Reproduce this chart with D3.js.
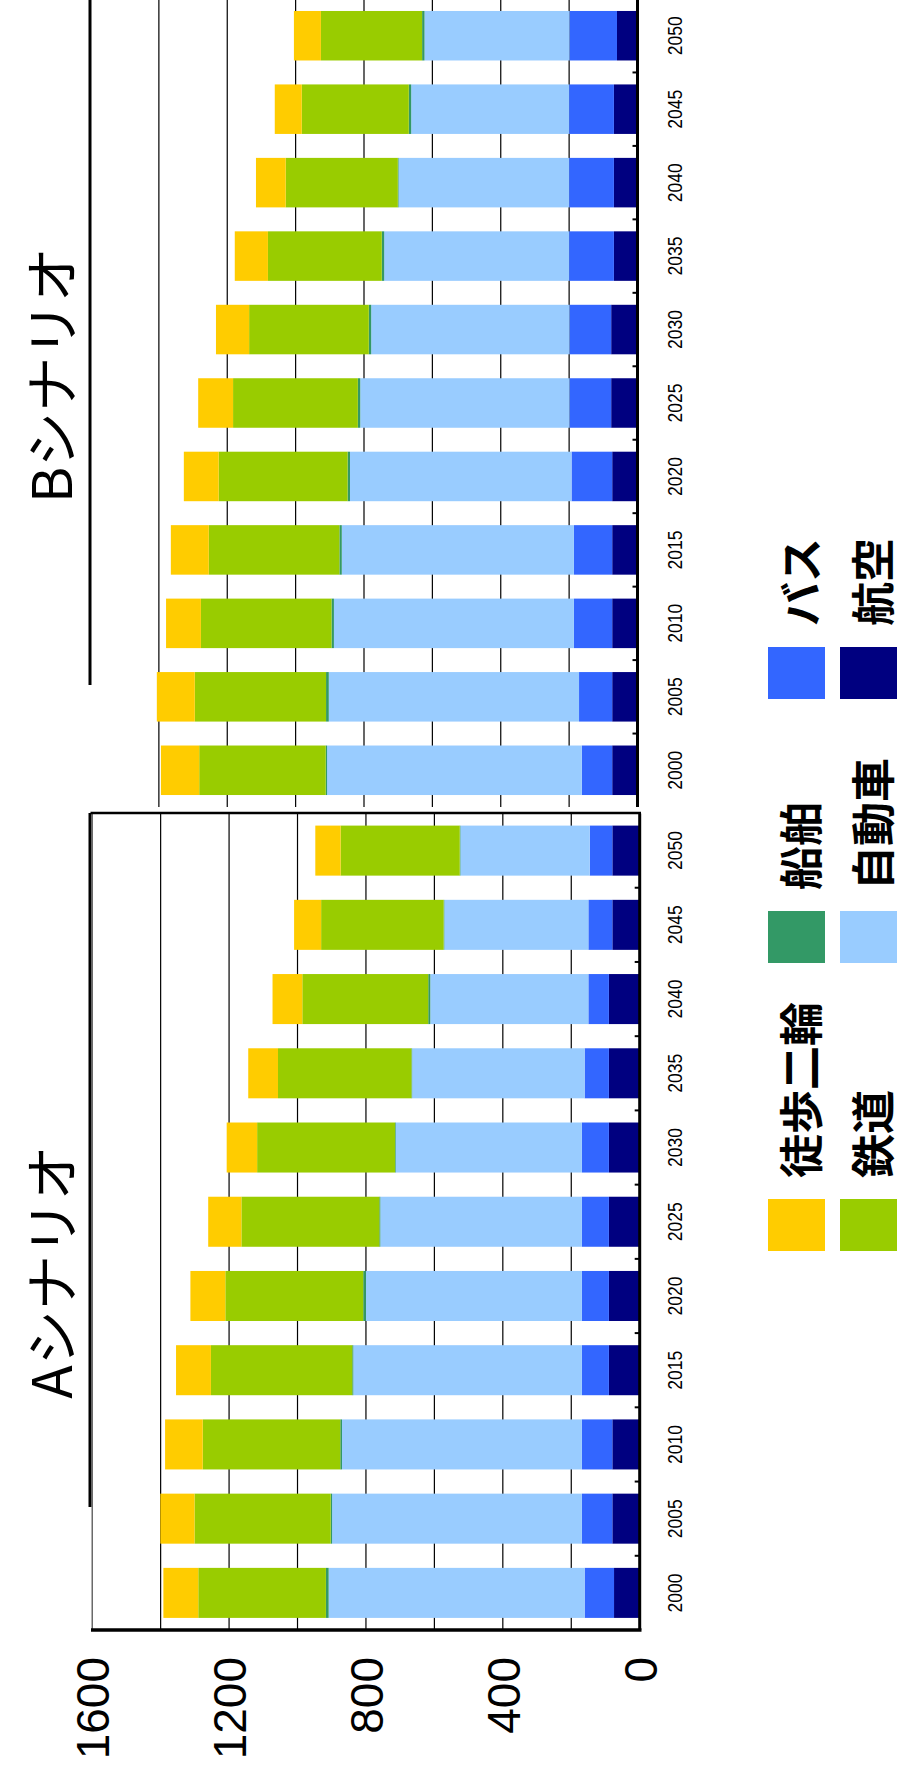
<!DOCTYPE html>
<html>
<head>
<meta charset="utf-8">
<script src="https://cdn.jsdelivr.net/npm/d3@7"></script>
<style>
  html, body { margin: 0; padding: 0; background: #fff; }
  svg { display: block; }
</style>
</head>
<body>
<div id="chart"></div>
<script>
// Passenger transport by mode, two scenarios, stacked bars (drawn landscape, then turned a quarter turn)
const years = ["2000","2005","2010","2015","2020","2025","2030","2035","2040","2045","2050"];
const seriesNames = ["航空","バス","自動車","船舶","鉄道","徒歩二輪"];
const seriesColors = ["#000080","#3366FF","#99CCFF","#339966","#99CC00","#FFCC00"];
const valueTicks = [0, 400, 800, 1200, 1600];
const gridValues = [200, 400, 600, 800, 1000, 1200, 1400];
const legendRows = [["徒歩二輪","船舶","バス"],["鉄道","自動車","航空"]];
const panelTitles = ["Aシナリオ","Bシナリオ"];

// Scenario A
const airA  = [75, 80, 80, 90, 90, 90, 90, 90, 90, 80, 80];
const busA  = [86, 89, 89, 79, 79, 79, 79, 71, 60, 70, 66];
const carA  = [748, 730, 701, 668, 631, 589, 544, 504, 462, 421, 378];
const shipA = [8, 4, 5, 3, 8, 3, 2, 2, 6, 2, 2];
const railA = [373, 398, 402, 413, 403, 403, 403, 390, 368, 358, 348];
const walkA = [102, 100, 110, 102, 102, 97, 89, 87, 87, 79, 74];

// Scenario B
const airB  = [74, 74, 74, 74, 74, 77, 77, 69, 69, 69, 60];
const busB  = [89, 97, 112, 112, 119, 122, 122, 131, 131, 131, 139];
const carB  = [745, 732, 702, 679, 648, 612, 580, 541, 499, 462, 424];
const shipB = [4, 8, 7, 7, 7, 7, 7, 7, 2, 7, 7];
const railB = [370, 384, 382, 382, 377, 365, 350, 333, 328, 313, 296];
const walkB = [112, 111, 102, 111, 102, 102, 97, 97, 87, 79, 79];

const W = 898, H = 1769;
const latin = "'Liberation Sans', Arial, sans-serif";
const jp = "'Noto Sans CJK JP', 'Noto Sans', sans-serif";

const svg = d3.select("#chart").append("svg")
  .attr("width", W).attr("height", H)
  .attr("viewBox", `0 0 ${W} ${H}`);
svg.append("rect").attr("width", W).attr("height", H).attr("fill", "#fff");

// Landscape frame: u runs along the long side, v along the short side
const g = svg.append("g").attr("transform", `translate(0,${H}) rotate(-90)`);

function rowsFor(cols) {
  return years.map((yr, i) => {
    const r = { year: yr };
    seriesNames.forEach((s, k) => { r[s] = cols[k][i]; });
    return r;
  });
}

const stack = d3.stack().keys(seriesNames);
const color = d3.scaleOrdinal().domain(seriesNames).range(seriesColors);

function drawPanel(p) {
  const x = d3.scaleBand().domain(years).range(p.uRange)
    .paddingInner(0.326).paddingOuter(0.163);
  const y = d3.scaleLinear().domain([0, 1600]).range([p.v0, p.v1600]);
  const pg = g.append("g");

  // gridlines
  pg.append("g").selectAll("line").data(gridValues).join("line")
    .attr("x1", p.uRange[0]).attr("x2", p.uRange[1])
    .attr("y1", d => y(d)).attr("y2", d => y(d))
    .attr("stroke", "#000").attr("stroke-width", 1.2);

  // stacked bars
  const layers = stack(rowsFor(p.cols));
  pg.append("g").selectAll("g").data(layers).join("g")
    .attr("fill", d => color(d.key))
    .selectAll("rect").data(d => d).join("rect")
      .attr("x", d => x(d.data.year))
      .attr("width", x.bandwidth())
      .attr("y", d => y(d[1]))
      .attr("height", d => Math.max(0, y(d[0]) - y(d[1])));

  // category axis line and small ticks between categories
  pg.append("line")
    .attr("x1", p.uRange[0]).attr("x2", p.uRange[1])
    .attr("y1", p.v0).attr("y2", p.v0)
    .attr("stroke", "#000").attr("stroke-width", 3);
  const step = x.step();
  const bounds = d3.range(1, years.length).map(i => p.uRange[0] + i * step);
  pg.append("g").selectAll("line").data(bounds).join("line")
    .attr("x1", d => d).attr("x2", d => d)
    .attr("y1", p.v0).attr("y2", p.v0 - 5)
    .attr("stroke", "#000").attr("stroke-width", 2);

  // year labels
  const ax = pg.append("g")
    .attr("transform", `translate(0,${p.v0})`)
    .call(d3.axisBottom(x).tickSize(0).tickPadding(0));
  ax.select(".domain").remove();
  ax.selectAll("text")
    .attr("y", 682 - p.v0).attr("dy", 0)
    .attr("font-family", latin).attr("font-size", 20)
    .attr("textLength", 39).attr("lengthAdjust", "spacingAndGlyphs")
    .attr("fill", "#000");

  // scenario title and its rule
  pg.append("text")
    .attr("x", p.titleU).attr("y", 48)
    .attr("text-anchor", "middle").attr("dominant-baseline", "central")
    .attr("font-family", jp).attr("font-size", 55).attr("font-weight", 400)
    .attr("fill", "#000").text(p.title);
  pg.append("line")
    .attr("x1", p.ruleU[0]).attr("x2", p.ruleU[1])
    .attr("y1", 90).attr("y2", 90)
    .attr("stroke", "#000").attr("stroke-width", 3);

  return { x, y, pg };
}

// Panel A
const A = drawPanel({
  cols: [airA, busA, carA, shipA, railA, walkA],
  uRange: [139, 955.5], v0: 639.7, v1600: 92.2,
  title: panelTitles[0], titleU: 497, ruleU: [262, 956]
});
// plot frame of panel A
A.pg.append("line").attr("x1", 139).attr("x2", 956).attr("y1", 92.2).attr("y2", 92.2)
  .attr("stroke", "#444").attr("stroke-width", 1.2);
A.pg.append("line").attr("x1", 956).attr("x2", 956).attr("y1", 90.5).attr("y2", 641)
  .attr("stroke", "#000").attr("stroke-width", 2.5);
A.pg.append("line").attr("x1", 139).attr("x2", 139).attr("y1", 91).attr("y2", 641.5)
  .attr("stroke", "#000").attr("stroke-width", 3.5);

// value axis labels
const vax = A.pg.append("g").attr("transform", "translate(139,0)")
  .call(d3.axisLeft(A.y).tickValues(valueTicks).tickSize(0).tickPadding(27).tickFormat(d3.format("d")));
vax.select(".domain").remove();
vax.selectAll("text")
  .attr("font-family", latin).attr("font-size", 46).attr("fill", "#000")
  .attr("dy", "0.36em");

// Panel B
drawPanel({
  cols: [airB, busB, carB, shipB, railB, walkB],
  uRange: [962, 1770], v0: 637.5, v1600: 90.5,
  title: panelTitles[1], titleU: 1394, ruleU: [1084, 1772]
});

// legend
const legendU = [518, 806, 1070];
const legendV = [768, 840];
const lg = g.append("g");
legendRows.forEach((row, ri) => {
  row.forEach((name, ci) => {
    lg.append("rect")
      .attr("x", legendU[ci]).attr("y", legendV[ri])
      .attr("width", 52).attr("height", 57)
      .attr("fill", color(name));
    lg.append("text")
      .attr("x", legendU[ci] + 73).attr("y", legendV[ri] + 31)
      .attr("dominant-baseline", "central")
      .attr("font-family", jp).attr("font-size", 44).attr("font-weight", 700)
      .attr("fill", "#000").text(name);
  });
});
</script>
</body>
</html>
